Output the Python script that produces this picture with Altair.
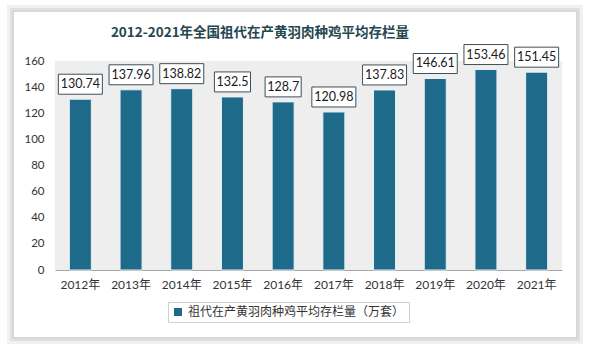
import altair as alt
import pandas as pd

YEARS = ["2012年", "2013年", "2014年", "2015年", "2016年", "2017年", "2018年", "2019年", "2020年", "2021年"]
VALUES = [130.74, 137.96, 138.82, 132.5, 128.7, 120.98, 137.83, 146.61, 153.46, 151.45]
LABELS = ["130.74", "137.96", "138.82", "132.5", "128.7", "120.98", "137.83", "146.61", "153.46", "151.45"]
SERIES = "祖代在产黄羽肉种鸡平均存栏量（万套）"
TITLE = "2012-2021年全国祖代在产黄羽肉种鸡平均存栏量"
Y_TICKS = [0, 20, 40, 60, 80, 100, 120, 140, 160]

df = pd.DataFrame({"year": YEARS, "value": VALUES, "label": LABELS, "series": [SERIES] * len(YEARS)})

W, H = 507, 209
BAR = "#1d6a8a"
FONT = "Lato, Noto Sans CJK SC, sans-serif"
CJK = "Noto Sans CJK SC"

PATH_LONG = "M-1,-0.4545L1,-0.4545L1,0.4545L-1,0.4545Z"
PATH_SHORT = "M-0.82,-0.4545L0.82,-0.4545L0.82,0.4545L-0.82,0.4545Z"

base = alt.Chart(df)

x_enc = alt.X("year:N", sort=YEARS, title=None,
              scale=alt.Scale(paddingInner=0.566, paddingOuter=0.283),
              axis=alt.Axis(labelAngle=0, ticks=False, domainColor="#a6a6a6", domainWidth=1,
                            labelPadding=9, labelFont=FONT, labelFontSize=12, labelColor="#333333"))
y_enc = alt.Y("value:Q", title=None,
              scale=alt.Scale(domain=[0, 160], nice=False),
              axis=alt.Axis(values=Y_TICKS, grid=False, domain=False, ticks=False, labelOverlap=False,
                            labelPadding=11, labelFont=FONT, labelFontSize=11.5, labelColor="#333333"))

bars = base.mark_bar(stroke="#e8f0f3", strokeWidth=1).encode(
    x=x_enc, y=y_enc,
    color=alt.Color("series:N", scale=alt.Scale(range=[BAR]), title=None,
                    legend=alt.Legend(orient="none", legendX=113, legendY=241, direction="horizontal",
                                      strokeColor="#cfcfcf", fillColor="#ffffff", padding=4,
                                      symbolType="square", symbolSize=64, symbolStrokeWidth=0,
                                      labelFont=CJK, labelFontSize=12, labelColor="#333333",
                                      labelLimit=400, symbolOffset=0))
)

boxes = base.transform_calculate(kind="length(datum.label) > 5 ? 'long' : 'short'").mark_point(
    filled=True, fill="#ffffff", stroke="#3d4f57", strokeWidth=1, opacity=1, size=1936, yOffset=-15
).encode(
    x=x_enc,
    y=y_enc,
    shape=alt.Shape("kind:N", scale=alt.Scale(domain=["long", "short"], range=[PATH_LONG, PATH_SHORT]),
                    legend=None),
)

texts = base.mark_text(font=FONT, fontSize=12.5, color="#1a1a1a", baseline="middle", yOffset=-15).encode(
    x=x_enc,
    y=y_enc,
    text="label:N",
)

one = alt.Data(values=[{"k": 1}])

def frame(off, color, sw):
    return alt.Chart(one).mark_rect(fill=None, stroke=color, strokeWidth=sw).encode(
        x=alt.value(-41 - off), x2=alt.value(521 + off), y=alt.value(-49 - off), y2=alt.value(276 + off)
    )

frames = frame(5, "#f1f1f1", 4) + frame(3, "#e0e0e0", 2) + frame(1, "#cccccc", 1.5)

title = alt.Chart(one).mark_text(
    text=TITLE, font=CJK, fontSize=13.5, fontWeight="bold", color="#24464f",
    align="center", baseline="middle"
).encode(x=alt.value(205), y=alt.value(-28))

chart = alt.layer(bars, boxes, texts, frames, title).properties(
    width=W, height=H,
    autosize=alt.AutoSizeParams(type="none"),
    padding={"left": 55, "top": 61, "right": 27, "bottom": 81},
    background="#ffffff",
).configure_view(fill="#eeeeee", stroke=None)

chart.save("out.html", embed_options={"renderer": "svg", "actions": False})
